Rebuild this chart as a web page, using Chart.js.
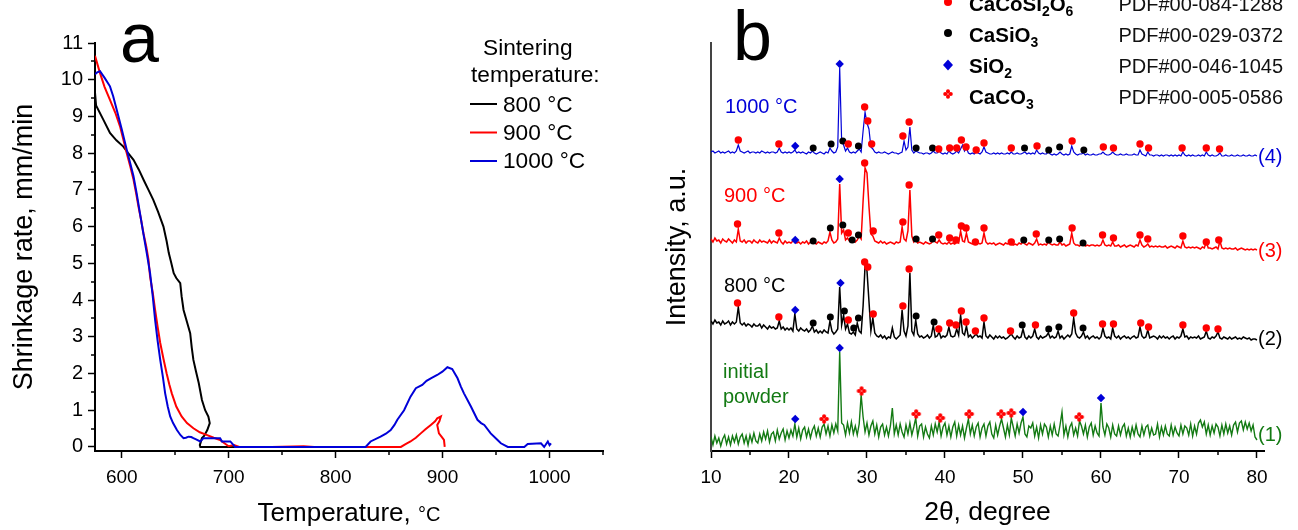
<!DOCTYPE html>
<html><head><meta charset="utf-8">
<script src="https://cdn.jsdelivr.net/npm/chart.js@4.4.1/dist/chart.umd.min.js"></script>
<style>
html,body{margin:0;padding:0;background:#fff;}
#wrap{position:relative;width:1298px;height:530px;overflow:hidden;background:#fff;}
#ca{position:absolute;left:0;top:0;}
#cb{position:absolute;left:640px;top:0;}
</style></head><body>
<div id="wrap"><canvas id="ca" width="640" height="530"></canvas><canvas id="cb" width="658" height="530"></canvas></div>
<script>
// ================= Panel a: shrinkage rate =================
const tempTicks = [600, 700, 800, 900, 1000];
const tempMinor = [650, 750, 850, 950, 1050];
const rateTicks = [0,1,2,3,4,5,6,7,8,9,10,11];
const rateMinor = [0.5,1.5,2.5,3.5,4.5,5.5,6.5,7.5,8.5,9.5,10.5];
const sinterLabels = ['800 °C', '900 °C', '1000 °C'];

const shrink800 = [[575,9.65],[576,9.3],[583,8.9],[589,8.55],[595,8.35],[601.5,8.18],[606,8.0],[611,7.82],[616,7.55],[620.5,7.27],[625,7.0],[629.5,6.73],[634,6.4],[639,6.0],[642,5.6],[644,5.28],[646,5.05],[648.6,4.73],[651,4.6],[654.7,4.46],[656,4.1],[657.8,3.73],[661,3.4],[664,3.1],[665.5,2.7],[667,2.37],[669.5,2.05],[672,1.74],[675,1.28],[678,1.0],[681,0.83],[682.3,0.65],[680,0.46],[677,0.3],[675,0.24],[673,0.05],[673.5,0],[690,0],[720,0],[760,0],[800,0]];
const shrink900 = [[575,10.65],[579.7,10.18],[584,9.8],[589,9.45],[594,9.1],[598.4,8.73],[601.5,8.37],[604.7,8.0],[608,7.64],[611,7.28],[613.5,6.9],[615.6,6.55],[618,6.2],[620.3,5.82],[623,5.45],[625,5.1],[626.5,4.64],[629,4.2],[631.2,3.73],[633.5,3.28],[636,2.83],[639,2.4],[642,2.0],[644.5,1.7],[646.8,1.46],[651,1.1],[656,0.83],[661,0.65],[667,0.51],[673,0.4],[679.3,0.33],[686,0.25],[692,0.19],[696,0.1],[700,0.02],[705,0.05],[710,0],[740,0],[770,0.02],[780,0],[861,0],[865,0.07],[870,0.15],[875,0.25],[879.6,0.37],[884,0.48],[889,0.6],[893,0.7],[895,0.78],[898.4,0.83],[897,0.7],[895,0.6],[896.6,0.37],[899,0.28],[901.3,0.19],[902,0]];
const shrink1000 = [[575,10.15],[577,10.2],[579.7,10.23],[584,10.05],[589,9.82],[592,9.55],[595.3,9.18],[600,8.65],[604.7,8.09],[608,7.72],[611,7.37],[614,6.9],[617,6.37],[620,5.85],[623.4,5.28],[626.5,4.73],[629,4.1],[631.2,3.46],[633.5,2.9],[636,2.37],[638.5,1.9],[640.6,1.46],[643,1.1],[645.3,0.83],[648,0.65],[651.6,0.46],[655,0.32],[657.8,0.24],[660,0.25],[662.5,0.28],[665,0.27],[667,0.24],[670,0.2],[673.4,0.15],[676.5,0.24],[685,0.24],[692,0.24],[693.7,0.15],[701.5,0.15],[704.6,0.05],[706,0],[828,0],[832.7,0.15],[842,0.28],[847,0.36],[851.5,0.46],[855,0.6],[857.7,0.74],[864,1.0],[870,1.37],[875,1.6],[881,1.69],[885,1.8],[889,1.87],[895,1.96],[899.8,2.05],[904.5,2.17],[909,2.12],[914,1.87],[917,1.65],[920,1.46],[926.5,1.1],[932.6,0.74],[936,0.65],[939,0.6],[945,0.37],[951.4,0.19],[954.5,0.1],[961,0],[976.4,0],[979.6,0.08],[992,0.1],[995,0],[998.4,0.15],[1000,0.05],[1001.4,0.1]];

// ================= Panel b: XRD patterns =================
const angleTicks = [10,20,30,40,50,60,70,80];
const angleMinor = [15,25,35,45,55,65,75];
const angleStart = 10, angleStep = 0.25;
const patternNames = ['initial powder', '800 °C', '900 °C', '1000 °C'];
const patternTags = ['(1)', '(2)', '(3)', '(4)'];
const stackOffset = [0, 100, 190, 280];

const xrdInitial = [
14,6,15,8, 13,5,12,16, 7,14,6,15, 9,16,7,14, 17,8,15,6, 16,9,18,10, 8,17,10,19, 12,20,9,17, 19,10,21,12, 18,22,11,20,
13,21,15,27, 14,23,12,21, 24,14,22,13, 21,25,15,23, 14,24,27,17, 25,15,26,18, 27,20,99,28, 26,16,28,18, 29,17,25,16, 27,56,34,19,
28,16,25,30, 17,26,14,24, 27,16,24,15, 25,43,17,26, 16,27,19,14, 26,17,28,16, 24,33,15,25, 27,14,24,17, 13,25,16,27, 19,29,15,24,
28,16,25,14, 24,29,15,26, 16,25,13,23, 32,17,26,15, 24,28,14,23, 27,15,25,29, 17,13,26,16, 25,32,23,14, 26,16,33,24, 15,27,18,28,
34,17,14,25, 23,28,15,24, 13,26,17,27, 24,14,25,16, 27,17,15,26, 39,16,25,14, 24,28,16,23, 15,30,25,17, 26,14,24,28, 16,25,18,15,
48,24,16,27, 23,14,26,17, 15,25,16,24, 27,15,23,14, 24,16,26,17, 14,25,16,24, 26,15,23,16, 17,27,14,24, 16,25,17,15, 26,16,24,18,
15,26,17,25, 23,16,27,15, 25,17,28,31, 24,29,17,26, 16,25,18,27, 24,15,26,17, 27,18,25,16, 26,29,19,28, 30,21,29,22, 28,20,26,14,
11];
const xrd800 = [
30,27,31,28, 29,26,30,27, 28,30,26,29, 27,29,44,28, 26,28,25,27, 26,24,27,25, 25,27,23,26, 24,22,25,23, 24,22,23,30, 22,24,21,23,
21,23,20,37, 22,20,23,21, 20,22,19,21, 25,19,21,18, 20,18,21,19, 18,30,20,17, 19,22,64,26, 36,22,27,18, 17,19,16,28, 20,18,45,85,
80,50,20,33, 18,15,14,16, 13,15,12,14, 13,23,14,12, 14,16,41,20, 15,25,78,20, 16,31,17,14, 15,13,14,16, 13,15,26,14, 15,19,13,15,
14,16,24,15, 14,15,22,16, 36,18,16,25, 14,16,13,15, 17,14,15,13, 29,15,13,16, 14,12,15,13, 15,13,14,12, 13,15,17,14, 12,15,13,14,
22,14,12,15, 13,15,22,14, 12,15,13,14, 15,18,13,15, 13,14,20,13, 15,12,14,16, 14,17,33,18, 14,13,15,19, 13,15,12,14, 15,13,14,12,
14,23,15,13, 14,12,23,15, 13,15,12,14, 15,13,14,12, 14,15,13,14, 24,15,13,14, 21,13,14,15, 14,12,15,13, 15,13,14,12, 14,15,12,14,
13,15,22,14, 15,12,14,13, 14,13,15,12, 13,14,20,13, 12,14,13,15, 19,13,12,14, 13,12,14,12, 13,14,12,13, 12,14,13,12, 13,11,12,12,
11];
const xrd900 = [
22,19,23,20, 21,18,22,20, 19,22,20,18, 21,19,32,20, 19,21,18,20, 20,18,21,19, 18,21,19,20, 19,18,21,18, 20,19,18,23, 19,17,20,18,
19,18,20,22, 18,19,17,19, 18,20,17,19, 22,18,17,19, 18,17,19,18, 20,29,21,18, 19,22,77,28, 31,21,23,20, 20,22,19,21, 25,22,60,93,
88,55,27,25, 20,19,18,20, 18,19,17,18, 19,18,17,19, 18,19,34,22, 20,30,71,25, 19,21,18,19, 18,17,19,18, 17,18,21,19, 18,21,18,17,
18,17,19,17, 18,17,19,18, 30,20,19,28, 19,18,17,18, 19,18,17,18, 28,19,17,18, 17,18,16,17, 18,17,16,18, 17,18,19,16, 17,16,18,17,
19,17,16,18, 17,16,18,22, 16,17,16,17, 16,19,17,16, 17,16,16,19, 16,17,15,16, 17,28,18,16, 16,15,17,17, 15,16,15,16, 16,15,16,15,
16,21,16,15, 16,15,19,15, 15,16,14,15, 16,14,15,16, 15,14,16,15, 21,16,14,15, 17,14,15,14, 15,14,15,14, 14,15,13,14, 15,14,13,15,
14,13,20,14, 13,14,13,14, 13,14,13,12, 14,13,19,13, 13,12,13,14, 12,20,13,12, 13,12,13,12, 12,13,11,12, 13,12,11,12, 11,12,11,12,
11];
const xrd1000 = [
19,20,18,19, 20,18,19,18, 19,20,18,19, 18,20,26,20, 19,18,19,20, 18,19,19,18, 19,18,20,19, 18,19,18,19, 19,18,19,23, 19,18,19,18,
19,18,19,21, 18,19,18,19, 18,17,19,18, 20,18,17,18, 19,18,17,19, 18,23,20,18, 19,24,103,30, 26,20,23,19, 18,19,18,20, 22,19,40,59,
48,42,24,22, 19,18,19,18, 18,19,18,17, 18,19,18,18, 17,18,19,30, 21,24,44,21, 18,20,19,18, 18,17,18,18, 17,18,20,18, 18,20,18,17,
18,17,20,18, 17,18,20,18, 22,26,20,23, 18,17,18,17, 19,18,17,19, 24,19,18,17, 17,18,17,18, 17,18,17,17, 18,17,19,17, 17,18,17,17,
18,19,17,18, 17,18,17,21, 18,17,18,17, 17,19,17,16, 17,16,17,19, 17,16,17,16, 17,25,19,17, 16,17,17,18, 16,17,16,16, 17,16,16,17,
17,19,17,16, 16,17,19,17, 16,16,17,16, 16,17,16,16, 16,17,16,16, 21,17,16,15, 19,16,16,15, 16,16,15,16, 15,16,16,15, 16,15,16,15,
16,15,19,16, 15,16,15,16, 15,15,16,15, 16,15,19,16, 15,16,15,15, 16,18,15,15, 16,15,15,16, 15,15,16,15, 15,16,15,15, 16,15,15,16,
15];

// phase marks [2θ, intensity] for each pattern
const marksInit_SiO2 = [[20.8,32],[26.5,103],[50.0,39],[60.0,53]];
const marksInit_CaCO3 = [[24.5,32],[29.3,60],[36.3,37],[39.4,33],[43.1,37],[47.2,37],[48.5,38],[57.2,34]];
const marks800_CaCoSi2O6 = [[13.4,48],[18.7,34],[27.6,31],[29.7,89],[30.1,84],[30.8,37],[34.6,45],[35.4,82],[39.2,22],[40.6,28],[41.4,26],[42.1,40],[42.7,29],[43.9,20],[45.0,33],[48.4,20],[51.6,26],[56.5,38],[60.2,27],[61.6,27],[65.1,28],[66.1,24],[70.5,26],[73.5,23],[75.0,22]];
const marks800_CaSiO3 = [[23.1,28],[25.3,34],[27.1,40],[28.3,23],[28.9,33],[36.3,35],[38.6,29],[49.9,26],[53.3,22],[54.6,24],[57.7,23]];
const marks800_SiO2 = [[20.8,41],[26.6,68]];
const marks900_CaCoSi2O6 = [[13.4,37],[18.7,28],[27.6,28],[29.7,98],[30.8,30],[34.6,39],[35.4,76],[39.2,26],[40.6,23],[41.4,21],[42.1,35],[42.7,33],[43.9,19],[45.0,33],[48.5,19],[51.7,27],[56.3,33],[60.2,26],[61.6,23],[65.0,26],[66.0,22],[70.5,25],[73.5,19],[75.1,21]];
const marks900_CaSiO3 = [[23.1,20],[25.3,33],[26.9,36],[28.1,21],[28.9,26],[36.3,22],[38.4,22],[50.1,21],[53.3,21],[54.7,22],[57.7,18]];
const marks900_SiO2 = [[20.8,21],[26.5,82]];
const marks1000_CaCoSi2O6 = [[13.5,31],[18.7,27],[27.6,27],[29.7,64],[30.1,50],[30.6,27],[34.6,35],[35.4,49],[39.2,22],[40.6,23],[41.5,23],[42.1,31],[42.7,24],[44.0,21],[45.0,28],[48.5,23],[51.8,25],[56.3,30],[60.3,24],[61.6,23],[65.0,27],[66.1,23],[70.4,23],[73.5,23],[75.2,22]];
const marks1000_CaSiO3 = [[23.1,23],[25.4,27],[26.9,30],[28.9,25],[36.3,23],[38.4,23],[50.2,23],[53.3,21],[54.7,24],[57.8,21]];
const marks1000_SiO2 = [[20.8,25],[26.5,107]];

const phaseNames = [[['CaCoSi',0],['2',1],['O',0],['6',1]], [['CaSiO',0],['3',1]], [['SiO',0],['2',1]], [['CaCO',0],['3',1]]];
const phaseCards = ['PDF#00-084-1288', 'PDF#00-029-0372', 'PDF#00-046-1045', 'PDF#00-005-0586'];

[xrdInitial, xrd800, xrd900, xrd1000].forEach((a,i)=>{ if (a.length !== 281) throw new Error('pattern '+i+' has '+a.length+' points'); });

// ================= drawing =================
const FONT = '"Liberation Sans", Arial, sans-serif';
Chart.defaults.font.family = FONT;
Chart.defaults.color = '#000';

const C_RED = '#ff0000', C_BLUE = '#0000d8', C_GREEN = '#137a13', C_BLACK = '#000000';

function flower(color, r) {
  const s = Math.ceil(r * 2 + 2);
  const c = document.createElement('canvas'); c.width = s; c.height = s;
  const g = c.getContext('2d'); g.fillStyle = color; const m = s / 2;
  [[r*0.56,0],[-r*0.56,0],[0,r*0.56],[0,-r*0.56]].forEach(([dx,dy]) => { g.beginPath(); g.arc(m+dx, m+dy, r*0.4, 0, Math.PI*2); g.fill(); });
  g.fillRect(m - r*0.3, m - r*0.3, r*0.6, r*0.6);
  g.fillStyle = '#fff'; g.beginPath(); g.arc(m, m, r*0.14, 0, Math.PI*2); g.fill();
  return c;
}
const flowerImg = flower(C_RED, 5);

const minorTicks = {
  id: 'minorTicks',
  afterDraw(chart, args, opts) {
    const ctx = chart.ctx, ca = chart.chartArea;
    ctx.save(); ctx.strokeStyle = '#000'; ctx.lineWidth = 1.5;
    (opts.x || []).forEach(v => { const p = Math.round(chart.scales.x.getPixelForValue(v)); ctx.beginPath(); ctx.moveTo(p, ca.bottom); ctx.lineTo(p, ca.bottom + opts.len); ctx.stroke(); });
    (opts.y || []).forEach(v => { const p = Math.round(chart.scales.y.getPixelForValue(v)); ctx.beginPath(); ctx.moveTo(ca.left, p); ctx.lineTo(ca.left - opts.len, p); ctx.stroke(); });
    ctx.restore();
  }
};

function rich(ctx, parts, x, y, size, weight, color) {
  let cx = x;
  parts.forEach(([t, sub]) => {
    const fs = sub ? size * 0.68 : size;
    ctx.font = `${weight} ${fs}px ${FONT}`; ctx.fillStyle = color;
    ctx.fillText(t, cx, sub ? y + size * 0.25 : y);
    cx += ctx.measureText(t).width;
  });
}

const textsA = {
  id: 'textsA',
  afterDraw(chart) {
    const ctx = chart.ctx, ca = chart.chartArea;
    ctx.save(); ctx.textBaseline = 'alphabetic'; ctx.textAlign = 'left'; ctx.fillStyle = '#000';
    ctx.font = `70px ${FONT}`; ctx.fillText('a', 120, 62);
    ctx.font = `22.7px ${FONT}`;
    ctx.fillText('Sintering', 483, 55);
    ctx.fillText('temperature:', 471, 82);
    const ly = [104, 132.5, 161], ty = [112, 140, 168];
    chart.data.datasets.forEach((d, i) => {
      ctx.strokeStyle = d.borderColor; ctx.lineWidth = 2;
      ctx.beginPath(); ctx.moveTo(470, ly[i]); ctx.lineTo(497, ly[i]); ctx.stroke();
      ctx.fillStyle = '#000'; ctx.fillText(d.label, 503, ty[i]);
    });
    const cx = (ca.left + ca.right) / 2;
    ctx.font = `26px ${FONT}`; const t1 = 'Temperature, '; const w1 = ctx.measureText(t1).width;
    ctx.font = `20px ${FONT}`; const w2 = ctx.measureText('°C').width;
    const x0 = cx - (w1 + w2) / 2;
    ctx.font = `26px ${FONT}`; ctx.fillText(t1, x0, 521);
    ctx.font = `20px ${FONT}`; ctx.fillText('°C', x0 + w1, 521);
    ctx.translate(32, (ca.top + ca.bottom) / 2); ctx.rotate(-Math.PI / 2);
    ctx.textAlign = 'center'; ctx.font = `27px ${FONT}`;
    ctx.fillText('Shrinkage rate, mm/min', 0, 0);
    ctx.restore();
  }
};

const textsB = {
  id: 'textsB',
  afterDraw(chart) {
    const ctx = chart.ctx, ca = chart.chartArea;
    ctx.save(); ctx.textBaseline = 'alphabetic'; ctx.textAlign = 'left';
    ctx.fillStyle = '#000'; ctx.font = `70px ${FONT}`; ctx.fillText('b', 93, 60);
    const rowBase = [11, 42, 73, 104], mY = [2, 33, 65, 94], mX = 308;
    ctx.fillStyle = C_RED; ctx.beginPath(); ctx.arc(mX, mY[0], 4, 0, Math.PI*2); ctx.fill();
    ctx.fillStyle = '#000'; ctx.beginPath(); ctx.arc(mX, mY[1], 4, 0, Math.PI*2); ctx.fill();
    ctx.fillStyle = C_BLUE; ctx.beginPath(); ctx.moveTo(mX, mY[2]-5.5); ctx.lineTo(mX+5, mY[2]); ctx.lineTo(mX, mY[2]+5.5); ctx.lineTo(mX-5, mY[2]); ctx.closePath(); ctx.fill();
    ctx.drawImage(flowerImg, mX - flowerImg.width/2, mY[3] - flowerImg.height/2);
    phaseNames.forEach((parts, i) => {
      rich(ctx, parts, 329, rowBase[i], 20.5, 'bold', '#000');
      ctx.font = `20px ${FONT}`; ctx.fillStyle = '#111'; ctx.textAlign = 'right';
      ctx.fillText(phaseCards[i], 643, rowBase[i]); ctx.textAlign = 'left';
    });
    const colors = [C_GREEN, C_BLACK, C_RED, C_BLUE];
    ctx.font = `20px ${FONT}`;
    ctx.fillStyle = C_BLUE; ctx.fillText(patternNames[3], 85, 113);
    ctx.fillStyle = C_RED; ctx.fillText(patternNames[2], 84, 202);
    ctx.fillStyle = C_BLACK; ctx.fillText(patternNames[1], 84, 292);
    ctx.fillStyle = C_GREEN; const ip = patternNames[0].split(' ');
    ctx.fillText(ip[0], 83, 378); ctx.fillText(ip[1], 83, 403);
    const tagY = [441, 345, 257, 163];
    patternTags.forEach((t, i) => { ctx.fillStyle = colors[i]; ctx.fillText(t, 618, tagY[i]); });
    ctx.fillStyle = '#000'; ctx.textAlign = 'center'; ctx.font = `26.5px ${FONT}`;
    ctx.fillText('2θ, degree', (ca.left + ca.right) / 2, 520);
    ctx.translate(45, (ca.top + ca.bottom) / 2); ctx.rotate(-Math.PI / 2);
    ctx.font = `27px ${FONT}`; ctx.fillText('Intensity, a.u.', 0, 0);
    ctx.restore();
  }
};

const pts = arr => arr.map(([x, y]) => ({x, y}));
const plainLabel = v => String(v);

new Chart(document.getElementById('ca'), {
  type: 'line',
  data: { datasets: [
    {label: sinterLabels[0], data: pts(shrink800), borderColor: C_BLACK, order: 2},
    {label: sinterLabels[1], data: pts(shrink900), borderColor: C_RED, order: 1},
    {label: sinterLabels[2], data: pts(shrink1000), borderColor: C_BLUE, order: 0}
  ]},
  options: {
    responsive: false, animation: false, devicePixelRatio: 1,
    layout: {padding: {left: 0, right: 37, top: 43, bottom: 0}},
    elements: {point: {radius: 0}, line: {borderWidth: 2, tension: 0, fill: false}},
    plugins: {legend: {display: false}, tooltip: {enabled: false},
      minorTicks: {x: tempMinor, y: rateMinor, len: 4}},
    scales: {
      x: {type: 'linear', min: 575, max: 1050,
        afterBuildTicks: s => { s.ticks = tempTicks.map(v => ({value: v})); },
        afterFit: s => { s.height = 79; },
        ticks: {font: {size: 19}, padding: 8, maxRotation: 0, color: '#000', callback: plainLabel},
        grid: {drawOnChartArea: false, drawTicks: true, tickLength: 7, tickColor: '#000', tickWidth: 1.5},
        border: {display: true, color: '#000', width: 2}},
      y: {type: 'linear', min: -0.11, max: 11,
        afterBuildTicks: s => { s.ticks = rateTicks.map(v => ({value: v})); },
        afterFit: s => { s.width = 95; },
        ticks: {font: {size: 20}, padding: 5, color: '#000', callback: plainLabel},
        grid: {drawOnChartArea: false, drawTicks: true, tickLength: 7, tickColor: '#000', tickWidth: 1.5},
        border: {display: true, color: '#000', width: 2}}
    }
  },
  plugins: [minorTicks, textsA]
});

const patterns = [xrdInitial, xrd800, xrd900, xrd1000];
const patColors = [C_GREEN, C_BLACK, C_RED, C_BLUE];
const patWidths = [1.4, 1.5, 1.5, 1.2];
const xrdSets = patterns.map((arr, k) => ({
  label: patternNames[k], data: arr.map((v, i) => ({x: angleStart + i * angleStep, y: v + stackOffset[k]})),
  borderColor: patColors[k], borderWidth: patWidths[k], pointRadius: 0, order: 2
}));
const markSet = (arr, k, style, color, r) => ({
  data: arr.map(([x, y]) => ({x, y: y + stackOffset[k]})), showLine: false, order: 0,
  pointStyle: style, pointRadius: r, pointBackgroundColor: color, pointBorderWidth: 0, pointBorderColor: color
});
const markSets = [
  markSet(marksInit_SiO2, 0, 'rectRot', C_BLUE, 4.2),
  markSet(marksInit_CaCO3, 0, flowerImg, C_RED, 5),
  markSet(marks800_CaCoSi2O6, 1, 'circle', C_RED, 3.7),
  markSet(marks800_CaSiO3, 1, 'circle', '#000', 3.5),
  markSet(marks800_SiO2, 1, 'rectRot', C_BLUE, 4.2),
  markSet(marks900_CaCoSi2O6, 2, 'circle', C_RED, 3.7),
  markSet(marks900_CaSiO3, 2, 'circle', '#000', 3.5),
  markSet(marks900_SiO2, 2, 'rectRot', C_BLUE, 4.2),
  markSet(marks1000_CaCoSi2O6, 3, 'circle', C_RED, 3.7),
  markSet(marks1000_CaSiO3, 3, 'circle', '#000', 3.5),
  markSet(marks1000_SiO2, 3, 'rectRot', C_BLUE, 4.2)
];

new Chart(document.getElementById('cb'), {
  type: 'line',
  data: { datasets: [...xrdSets, ...markSets] },
  options: {
    responsive: false, animation: false, devicePixelRatio: 1,
    layout: {padding: {left: 0, right: 34, top: 43, bottom: 0}},
    elements: {line: {tension: 0, fill: false}},
    plugins: {legend: {display: false}, tooltip: {enabled: false},
      minorTicks: {x: angleMinor, y: [], len: 4}},
    scales: {
      x: {type: 'linear', min: 10, max: 80.9,
        afterBuildTicks: s => { s.ticks = angleTicks.map(v => ({value: v})); },
        afterFit: s => { s.height = 79; },
        ticks: {font: {size: 19}, padding: 8, maxRotation: 0, color: '#000', callback: plainLabel},
        grid: {drawOnChartArea: false, drawTicks: true, tickLength: 7, tickColor: '#000', tickWidth: 1.5},
        border: {display: true, color: '#000', width: 2}},
      y: {type: 'linear', min: 0, max: 408,
        afterFit: s => { s.width = 71; },
        ticks: {display: false},
        grid: {display: false},
        border: {display: true, color: '#444', width: 2}}
    }
  },
  plugins: [minorTicks, textsB]
});
</script>
</body></html>
